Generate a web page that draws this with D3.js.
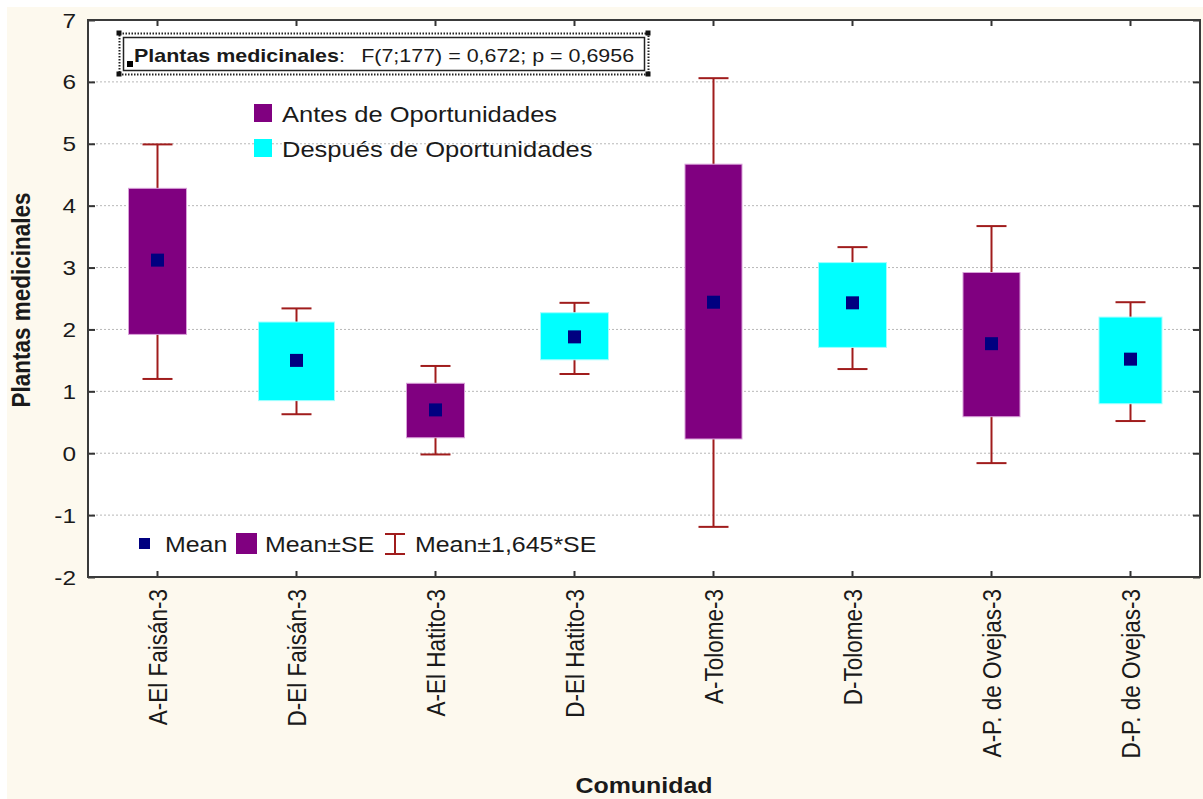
<!DOCTYPE html>
<html>
<head>
<meta charset="utf-8">
<script src="https://cdn.jsdelivr.net/npm/d3@7"></script>
<style>
  html, body { margin: 0; padding: 0; background: #ffffff; }
  svg { display: block; }
  text { font-family: "Liberation Sans", Arial, sans-serif; fill: #1a1a1a; }
</style>
</head>
<body>
<svg id="chart" width="1203" height="799"></svg>
<script>
// ---- data ----
const categories = ["A-El Faisán-3","D-El Faisán-3","A-El Hatito-3","D-El Hatito-3","A-Tolome-3","D-Tolome-3","A-P. de Ovejas-3","D-P. de Ovejas-3"];
const groups     = ["A","D","A","D","A","D","A","D"];
const means      = [3.12, 1.50, 0.70, 1.88, 2.44, 2.43, 1.77, 1.52];
const seLow      = [1.92, 0.85, 0.25, 1.51, 0.23, 1.71, 0.59, 0.80];
const seHigh     = [4.28, 2.12, 1.13, 2.27, 4.67, 3.08, 2.92, 2.20];
const ciLow      = [1.20, 0.63, -0.02, 1.28, -1.19, 1.36, -0.16, 0.52];
const ciHigh     = [4.99, 2.34, 1.41, 2.43, 6.06, 3.33, 3.67, 2.44];
const yTicks     = [-2, -1, 0, 1, 2, 3, 4, 5, 6, 7];
const legendGroups = ["Antes de Oportunidades", "Después de Oportunidades"];

// ---- style ----
const W = 1203, H = 799;
const M = { left: 88, top: 20, right: 1200, bottom: 577 };
const SX = 1.16; // horizontal text stretch
const colors = { A: "#800080", D: "#00ffff" };
const boxStroke = { A: "#d8a0d8", D: "#a0ffff" };
const boxW = [58, 76, 58, 68, 57, 68, 57, 63];
const whiskerColor = "#a01c1c";
const meanColor = "#000080";

const svg = d3.select("#chart");

// beige panel
svg.append("rect").attr("x", 7).attr("y", 7).attr("width", W - 7).attr("height", H - 7).attr("fill", "#fdf9ee");

const x = d3.scaleBand().domain(categories).range([M.left, M.right]).padding(0);
const y = d3.scaleLinear().domain([-2, 7]).range([M.bottom, M.top]);
const cx = c => x(c) + x.bandwidth() / 2;

// plot area
svg.append("rect").attr("x", M.left).attr("y", M.top)
  .attr("width", M.right - M.left).attr("height", M.bottom - M.top).attr("fill", "#ffffff");

// grid
svg.append("g").selectAll("line").data(yTicks.filter(t => t > -2 && t < 7)).join("line")
  .attr("x1", M.left).attr("x2", M.right)
  .attr("y1", d => y(d)).attr("y2", d => y(d))
  .attr("stroke", "#b8b8b8").attr("stroke-width", 1).attr("stroke-dasharray", "2,2");

// axes (ticks inward)
const axL = svg.append("g").attr("transform", `translate(${M.left},0)`)
  .call(d3.axisRight(y).tickValues(yTicks).tickSize(7).tickFormat(""));
const axR = svg.append("g").attr("transform", `translate(${M.right},0)`)
  .call(d3.axisLeft(y).tickValues(yTicks).tickSize(7).tickFormat(""));
const axT = svg.append("g").attr("transform", `translate(0,${M.top})`)
  .call(d3.axisBottom(x).tickSize(6).tickFormat(""));
const axB = svg.append("g").attr("transform", `translate(0,${M.bottom})`)
  .call(d3.axisTop(x).tickSize(6).tickFormat(""));
[axL, axR, axT, axB].forEach(a => {
  a.select(".domain").remove();
  a.selectAll("line").attr("stroke", "#333").attr("stroke-width", 2);
});

// frame
svg.append("rect").attr("x", M.left).attr("y", M.top)
  .attr("width", M.right - M.left).attr("height", M.bottom - M.top)
  .attr("fill", "none").attr("stroke", "#3a3a3a").attr("stroke-width", 2);

// y tick labels
svg.append("g").selectAll("g").data(yTicks).join("g")
  .attr("transform", d => `translate(76,${y(d)}) scale(${SX},1)`)
  .append("text").attr("text-anchor", "end").attr("dy", "0.36em")
  .attr("font-size", 21).text(d => d);

// x tick labels (rotated)
svg.append("g").selectAll("g").data(categories).join("g")
  .attr("transform", d => `translate(${cx(d)},589) scale(${SX},1) rotate(-90)`)
  .append("text").attr("text-anchor", "end").attr("dy", "0.36em")
  .attr("font-size", 22.5).text(d => d);

// axis titles
svg.append("g").attr("transform", `translate(644,793) scale(${SX},1)`)
  .append("text").attr("text-anchor", "middle").attr("font-size", 21.5).attr("font-weight", "bold").text("Comunidad");
svg.append("g").attr("transform", `translate(30,300) scale(${SX},1) rotate(-90)`)
  .append("text").attr("text-anchor", "middle").attr("font-size", 22.5).attr("font-weight", "bold").text("Plantas medicinales");

// whiskers
const idx = d3.range(categories.length);
const wg = svg.append("g").attr("stroke", whiskerColor).attr("stroke-width", 2);
wg.selectAll(".vl").data(idx).join("line")
  .attr("x1", i => cx(categories[i])).attr("x2", i => cx(categories[i]))
  .attr("y1", i => y(ciHigh[i])).attr("y2", i => y(ciLow[i]));
wg.selectAll(".ct").data(idx).join("line")
  .attr("x1", i => cx(categories[i]) - 15).attr("x2", i => cx(categories[i]) + 15)
  .attr("y1", i => y(ciHigh[i])).attr("y2", i => y(ciHigh[i]));
wg.selectAll(".cb").data(idx).join("line")
  .attr("x1", i => cx(categories[i]) - 15).attr("x2", i => cx(categories[i]) + 15)
  .attr("y1", i => y(ciLow[i])).attr("y2", i => y(ciLow[i]));

// boxes
svg.append("g").selectAll("rect").data(idx).join("rect")
  .attr("x", i => cx(categories[i]) - boxW[i] / 2).attr("width", i => boxW[i])
  .attr("y", i => y(seHigh[i])).attr("height", i => y(seLow[i]) - y(seHigh[i]))
  .attr("fill", i => colors[groups[i]]).attr("stroke", i => boxStroke[groups[i]]).attr("stroke-width", 1);

// means
svg.append("g").selectAll("rect").data(idx).join("rect")
  .attr("x", i => cx(categories[i]) - 6.5).attr("y", i => y(means[i]) - 6.5)
  .attr("width", 13).attr("height", 13).attr("fill", meanColor);

// stats box
svg.append("rect").attr("x", 119.5).attr("y", 33.5).attr("width", 529).attr("height", 41)
  .attr("fill", "none").attr("stroke", "#222").attr("stroke-width", 2).attr("stroke-dasharray", "1.5,1.5");
svg.append("rect").attr("x", 123.5).attr("y", 37.5).attr("width", 521).attr("height", 33)
  .attr("fill", "#ffffff").attr("stroke", "#222").attr("stroke-width", 1.5);
[[119,33],[648,33],[119,74],[648,74]].forEach(([a,b]) =>
  svg.append("rect").attr("x", a - 2.5).attr("y", b - 2.5).attr("width", 5).attr("height", 5).attr("fill", "#111"));
svg.append("rect").attr("x", 127).attr("y", 61).attr("width", 6).attr("height", 6).attr("fill", "#000");
const st = svg.append("g").attr("transform", `translate(134,62) scale(${SX},1)`).append("text").attr("font-size", 18.5);
st.append("tspan").attr("font-weight", "bold").text("Plantas medicinales");
st.append("tspan").text(":");
st.append("tspan").attr("dx", 14).text("F(7;177) = 0,672; p = 0,6956");

// group legend
const lg = svg.append("g");
legendGroups.forEach((t, k) => {
  const g = k === 0 ? "A" : "D";
  const yy = 104 + k * 35;
  lg.append("rect").attr("x", 254).attr("y", yy).attr("width", 18).attr("height", 18).attr("fill", colors[g]);
  lg.append("g").attr("transform", `translate(282,${yy + 18}) scale(${SX},1)`)
    .append("text").attr("font-size", 22).text(t);
});

// bottom legend
const bl = svg.append("g");
bl.append("rect").attr("x", 139).attr("y", 538).attr("width", 11).attr("height", 11).attr("fill", meanColor);
bl.append("g").attr("transform", `translate(165,552) scale(${SX},1)`).append("text").attr("font-size", 21.5).text("Mean");
bl.append("rect").attr("x", 236).attr("y", 533).attr("width", 21).attr("height", 21).attr("fill", colors.A);
bl.append("g").attr("transform", `translate(265,552) scale(${SX},1)`).append("text").attr("font-size", 21.5).text("Mean±SE");
const wi = bl.append("g").attr("stroke", whiskerColor).attr("stroke-width", 2);
wi.append("line").attr("x1", 395).attr("x2", 395).attr("y1", 534).attr("y2", 554);
wi.append("line").attr("x1", 385).attr("x2", 405).attr("y1", 534).attr("y2", 534);
wi.append("line").attr("x1", 385).attr("x2", 405).attr("y1", 554).attr("y2", 554);
bl.append("g").attr("transform", `translate(415,552) scale(${SX},1)`).append("text").attr("font-size", 21.5).text("Mean±1,645*SE");
</script>
</body>
</html>
